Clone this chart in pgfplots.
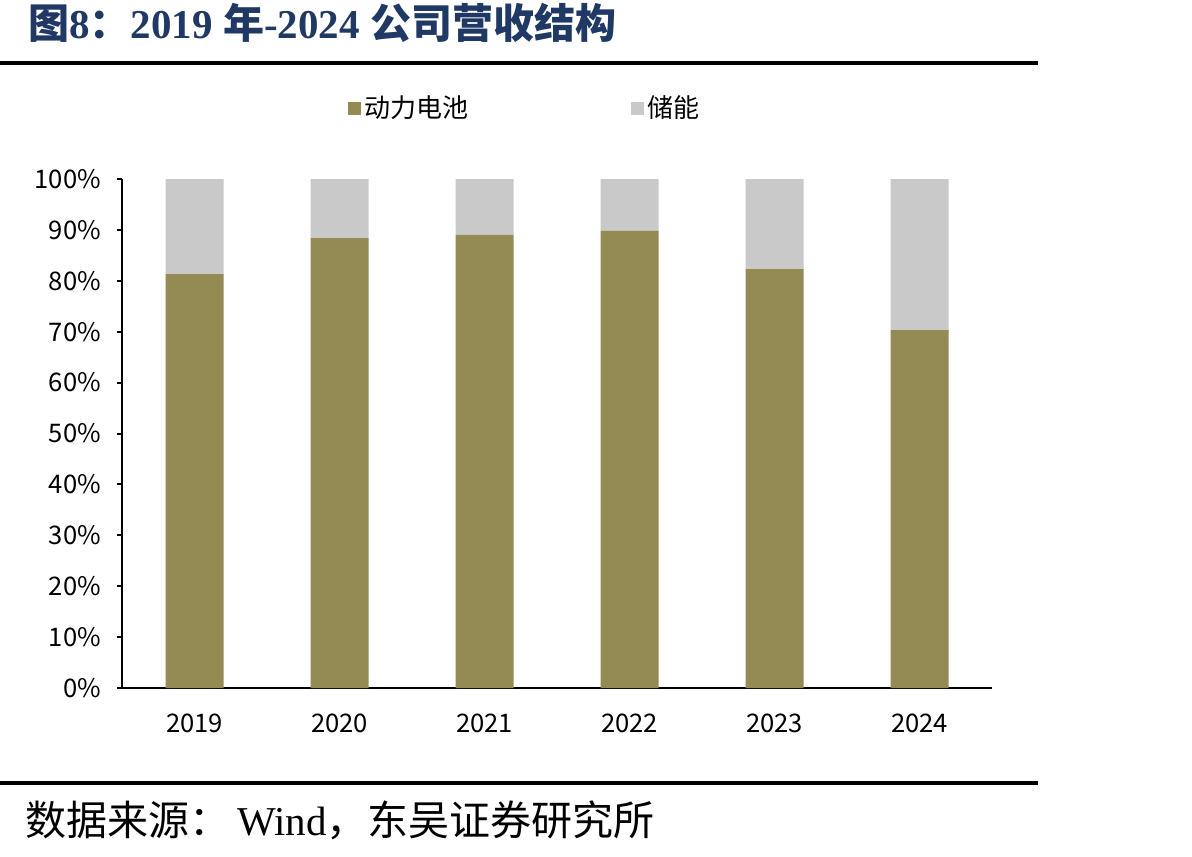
\documentclass[border=0pt]{standalone}
\usepackage{pgfplots}
\pgfplotsset{compat=1.18}
\usepackage{fontspec}
\setmainfont{Liberation Serif}
\newfontfamily\cjk{Noto Sans CJK SC}
\definecolor{olivebar}{RGB}{148,138,84}
\definecolor{lgray}{RGB}{201,201,201}
\definecolor{tblue}{RGB}{31,56,100}
\begin{document}
\begin{tikzpicture}
\useasboundingbox (0,0) rectangle (596pt,-428pt);
\node[anchor=base west, inner sep=0, text=tblue, font=\fontsize{20.5}{22}\selectfont\bfseries] at (14pt,-19.5pt) {{\cjk 图}8{\cjk ：}2019 {\cjk 年}-2024 {\cjk 公司营收结构}};
\draw[line width=1.75pt] (0pt,-31.5pt) -- (519pt,-31.5pt);
\draw[line width=2pt] (0pt,-391.5pt) -- (519pt,-391.5pt);
\node[anchor=base west, inner sep=0, font=\fontsize{20.5}{22}\selectfont] at (12.5pt,-417.5pt) {{\cjk 数据来源：}\,Wind{\cjk ，东吴证券研究所}};
\begin{axis}[at={(61pt,-344pt)}, anchor=south west, scale only axis, width=435pt, height=254.5pt,
 ybar stacked, bar width=29pt, xmin=-0.5, xmax=5.5, ymin=0, ymax=100,
 axis x line=bottom, axis y line=left, axis line style={line width=1.2pt, -},
 xtick={0,1,2,3,4,5}, xticklabels={2019,2020,2021,2022,2023,2024},
 x tick style={draw=none},
 xticklabel style={yshift=-7pt},
 ytick={0,10,...,100}, yticklabel={\pgfmathprintnumber{\tick}\%},
 yticklabel style={xshift=-4.5pt},
 y tick style={line width=1pt, black}, major tick length=2.5pt, tick align=outside,
 ticklabel style={font=\cjk\fontsize{12.8}{14}\selectfont},
 /pgf/number format/assume math mode=true,
 legend style={at={(0.2525,1.139)}, anchor=west, draw=none, legend columns=2,
   font=\cjk\fontsize{13}{14}\selectfont, /tikz/every even column/.append style={column sep=80pt},
   nodes={inner xsep=1.5pt}},
 legend image code/.code={\fill[#1] (0pt,-3.25pt) rectangle (6.5pt,3.25pt);},
]
\addplot[fill=olivebar, draw=none] coordinates {(0,81.3) (1,88.4) (2,89.0) (3,89.8) (4,82.3) (5,70.3)};
\addplot[fill=lgray, draw=none] coordinates {(0,18.7) (1,11.6) (2,11.0) (3,10.2) (4,17.7) (5,29.7)};
\legend{动力电池,储能}
\end{axis}
\end{tikzpicture}
\end{document}
